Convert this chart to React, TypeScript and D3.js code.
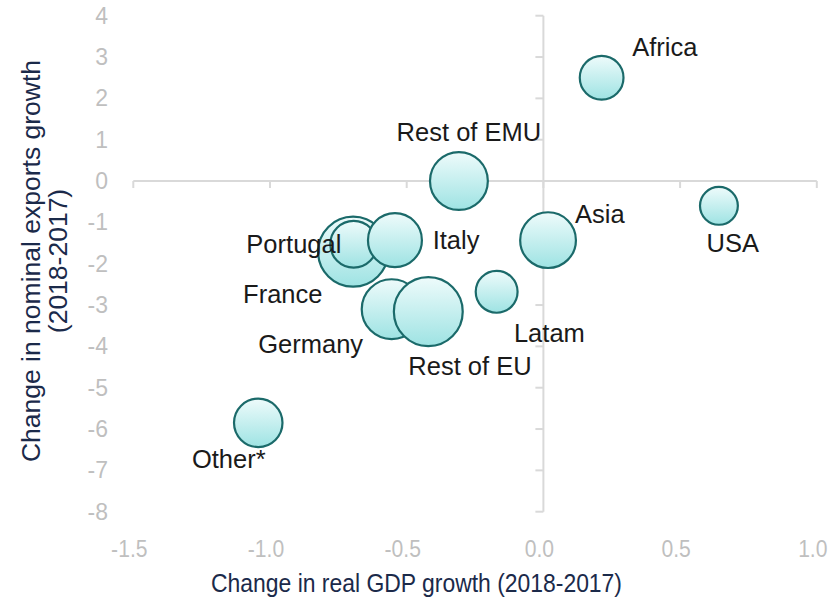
import React from "react";
import * as d3 from "d3";

// ---- Data ----
const names = ["France", "Portugal", "Italy", "Germany", "Rest of EU", "Rest of EMU", "Latam", "Asia", "USA", "Africa", "Other*"];
const gdpChange = [-0.696, -0.694, -0.543, -0.555, -0.421, -0.309, -0.171, 0.017, 0.642, 0.213, -1.043];
const exportsChange = [-1.71, -1.53, -1.43, -3.1, -3.16, 0.0, -2.68, -1.43, -0.6, 2.5, -5.85];
const weights = [12.3, 5.5, 7.3, 9.0, 11.9, 8.4, 4.4, 7.8, 3.6, 4.8, 5.9];
const xTicks = [-1.5, -1.0, -0.5, 0.0, 0.5, 1.0];
const yTicks = [4, 3, 2, 1, 0, -1, -2, -3, -4, -5, -6, -7, -8];

// label offsets relative to bubble centre (layout)
const labelOffsets: [number, number][] = [
  [-110, 51],
  [-107.3, 8.7],
  [37.7, 9],
  [-133.4, 44],
  [-20, 63.3],
  [-62.3, -40],
  [17.3, 50],
  [27, -17],
  [-12.3, 46],
  [30.6, -21.7],
  [-66.3, 45.3],
];

const W = 839;
const H = 602;
const FONT = "'Liberation Sans', Arial, sans-serif";

export default function App() {
  const x = d3.scaleLinear().domain([-1.5, 1.0]).range([133.3, 816.8]);
  const y = d3.scaleLinear().domain([4, -8]).range([15.7, 511.7]);
  const r = d3.scaleSqrt().domain([0, d3.max(weights) as number]).range([0, 35]);
  const x0 = x(0);
  const y0 = y(0);
  const axisColor = "#D9D9D9";
  const tickColor = "#BFBFBF";
  const titleColor = "#1B2A4A";

  return (
    <svg width={W} height={H} style={{ position: "absolute", left: 0, top: 0, display: "block", background: "#fff" }} fontFamily={FONT}>
      <defs>
        <linearGradient id="bub" x1="0" y1="0" x2="0" y2="1">
          <stop offset="0%" stopColor="#EEFBFB" />
          <stop offset="100%" stopColor="#9EE3E3" />
        </linearGradient>
      </defs>

      {/* horizontal axis at y=0 */}
      <line x1={x(-1.5)} x2={x(1.0)} y1={y0} y2={y0} stroke={axisColor} strokeWidth={2} />
      {xTicks.map((t) => (
        <line key={"xt" + t} x1={x(t)} x2={x(t)} y1={y0} y2={y0 + 7} stroke={axisColor} strokeWidth={2} />
      ))}
      {/* vertical axis at x=0 */}
      <line x1={x0} x2={x0} y1={y(4)} y2={y(-8)} stroke={axisColor} strokeWidth={2} />
      {yTicks.map((t) => (
        <line key={"yt" + t} x1={x0 - 8} x2={x0} y1={y(t)} y2={y(t)} stroke={axisColor} strokeWidth={2} />
      ))}

      {/* tick labels */}
      {xTicks.map((t) => (
        <g key={"xl" + t} transform={`translate(${x(t) - 4},557) scale(0.88,1)`}>
          <text x={0} y={0} textAnchor="middle" fontSize={24} fill={tickColor}>
            {d3.format(".1f")(t).replace("−", "-")}
          </text>
        </g>
      ))}
      {yTicks.map((t) => (
        <text key={"yl" + t} x={108} y={y(t)} dy="0.35em" textAnchor="end" fontSize={23} fill={tickColor}>
          {String(t)}
        </text>
      ))}

      {/* bubbles */}
      {names.map((n, i) => (
        <circle
          key={"b" + n}
          cx={x(gdpChange[i])}
          cy={y(exportsChange[i])}
          r={r(weights[i])}
          fill="url(#bub)"
          stroke="#1B6A6A"
          strokeWidth={2.2}
        />
      ))}

      {/* labels */}
      {names.map((n, i) => (
        <text
          key={"l" + n}
          x={x(gdpChange[i]) + labelOffsets[i][0]}
          y={y(exportsChange[i]) + labelOffsets[i][1]}
          fontSize={25.5}
          fill="#1A1A1A"
        >
          {n}
        </text>
      ))}

      {/* axis titles */}
      <text x={416.5} y={592} textAnchor="middle" fontSize={25} fill={titleColor} textLength={411} lengthAdjust="spacingAndGlyphs">
        Change in real GDP growth (2018-2017)
      </text>
      <g transform="translate(0,261) rotate(-90)">
        <text x={0} y={40} textAnchor="middle" fontSize={26.5} fill={titleColor}>
          Change in nominal exports growth
        </text>
        <text x={0} y={67} textAnchor="middle" fontSize={26.5} fill={titleColor}>
          (2018-2017)
        </text>
      </g>
    </svg>
  );
}
